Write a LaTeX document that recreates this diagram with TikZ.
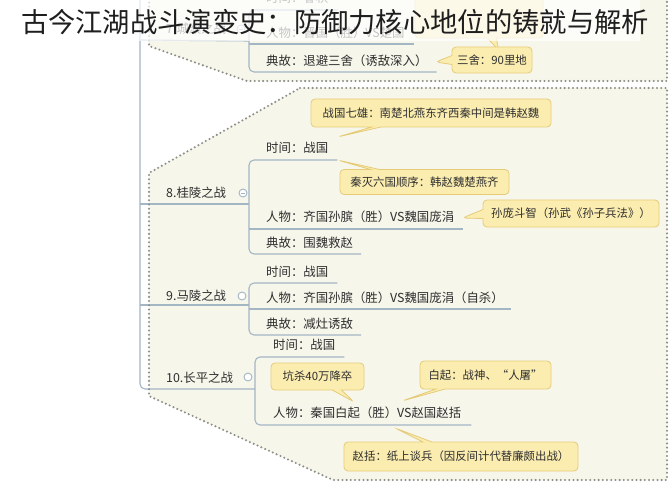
\documentclass[tikz,border=0pt]{standalone}
\usepackage{fontspec}
\newfontfamily\cjk{Noto Sans CJK SC}
\usetikzlibrary{calc,shapes.callouts}
\definecolor{bgc}{HTML}{F7F6EB}
\definecolor{treec}{HTML}{A3B6C4}
\definecolor{dotc}{HTML}{8E8E88}
\definecolor{calfill}{HTML}{FBEDB0}
\definecolor{caldraw}{HTML}{E5CB78}
\definecolor{txtc}{HTML}{2E2E2E}
\definecolor{titlec}{HTML}{1E1E1E}
\begin{document}
\begin{tikzpicture}[x=1pt,y=-1pt,
 tree/.style={draw=treec,line width=1.1pt,rounded corners=5pt},
 bnd/.style={draw=dotc,line width=2.3pt,dash pattern=on 0pt off 4.2pt,line cap=round},
 area/.style={fill=bgc},
 item/.style={anchor=west,inner sep=0pt,text=txtc,font=\cjk\fontsize{12.4}{14}\selectfont},
 note/.style={rectangle callout,fill=calfill,draw=caldraw,line width=0.8pt,rounded corners=4pt,
   text=txtc,font=\cjk\fontsize{11.4}{13}\selectfont,inner sep=0pt,callout pointer width=9pt},
 knob/.style={circle,draw=treec,fill=white,line width=0.9pt,minimum size=8pt,inner sep=0pt}]
\useasboundingbox (0,0) rectangle (669,500);
\fill[white] (0,0) rectangle (669,500);

% boundaries (fill)
\path[area] (149,-6) -- (149,46) -- (247,81) -- (667,81) -- (667,-6) -- cycle;
\path[area] (300,88) -- (667,88) -- (667,480) -- (333,480) -- (149,396) -- (149,173) -- cycle;

% ---------- item 7 (partly hidden) ----------
\node[item] (n7) at (166,29) {7.城濮之战};
\node[item] (c7a) at (266,-2) {时间：春秋};
\node[item] (c7b) at (266,33) {人物：晋国（胜）VS楚国};
\node[item] (c7c) at (266,61) {典故：退避三舍（诱敌深入）};
\draw[tree] ($(c7a.east)+(9,12)$) -- ($(c7a.west)+(-17,12)$) -- ($(c7c.west)+(-17,11)$) -- ($(c7c.east)+(9,11)$);
\draw[tree] ($(c7b.west)+(-17,11)$) -- ($(c7b.east)+(9,11)$);
\draw[tree] ($(n7.west)+(-26,11)$) -- ($(c7b.west)+(-17,8)$);
\node[knob] (k7) at (241,29) {};
\draw[treec,line width=0.8pt] ($(k7)+(-2.2,0)$) -- ($(k7)+(2.2,0)$);
\node[note,minimum width=128pt,minimum height=44pt] (h7) at (479,16) {};
\coordinate (tipG) at ($(c7c.east)+(8,1)$);
\node[note,minimum width=80pt,minimum height=26pt,callout absolute pointer={(tipG)}] (g7) at (492,60) {三舍：90里地};

% ---------- main trunk ----------
\coordinate (trunktop) at (140,-6);
\coordinate (trunkend) at (255,389);
\draw[tree] (trunktop) -- (140,389) -- (trunkend);

% ---------- item 8 ----------
\node[item] (n8) at (166,193) {8.桂陵之战};
\node[item] (c8a) at (266,148) {时间：战国};
\node[item] (c8b) at (266,217) {人物：齐国孙膑（胜）VS魏国庞涓};
\node[item] (c8c) at (266,243) {典故：围魏救赵};
\draw[tree] ($(c8a.east)+(9,12)$) -- ($(c8a.west)+(-17,12)$) -- ($(c8c.west)+(-17,11)$) -- ($(c8c.east)+(8,11)$);
\draw[tree] ($(c8b.west)+(-17,12)$) -- ($(c8b.east)+(9,12)$);
\draw[tree] ($(n8.west)+(-26,11)$) -- ($(c8b.west)+(-17,-13)$);
\node[knob] (k8) at (243,193) {};
\draw[treec,line width=0.8pt] ($(k8)+(-2.2,0)$) -- ($(k8)+(2.2,0)$);

\coordinate (tipA) at ($(c8a.east)+(9,-11)$);
\coordinate (tipB) at ($(c8a.east)+(9,12)$);
\coordinate (tipC) at ($(c8b.east)+(8,1)$);
\node[note,minimum width=240pt,minimum height=28pt,callout absolute pointer={(tipA)}] (a8) at (431,113) {战国七雄：南楚北燕东齐西秦中间是韩赵魏};
\node[note,minimum width=169pt,minimum height=25pt,callout absolute pointer={(tipB)}] (b8) at (424.5,182) {秦灭六国顺序：韩赵魏楚燕齐};
\node[note,minimum width=176pt,minimum height=27pt,callout absolute pointer={(tipC)}] (cc8) at (571,213.5) {孙庞斗智（孙武《孙子兵法》）};

% ---------- item 9 ----------
\node[item] (n9) at (166,296) {9.马陵之战};
\node[item] (c9a) at (266,272) {时间：战国};
\node[item] (c9b) at (266,298) {人物：齐国孙膑（胜）VS魏国庞涓（自杀）};
\node[item] (c9c) at (266,324) {典故：减灶诱敌};
\draw[tree] ($(c9a.east)+(9,11)$) -- ($(c9a.west)+(-17,11)$) -- ($(c9c.west)+(-17,11)$) -- ($(c9c.east)+(8,11)$);
\draw[tree] ($(c9b.west)+(-17,11)$) -- ($(c9b.east)+(7,11)$);
\draw[tree] ($(n9.west)+(-26,9)$) -- ($(c9b.west)+(-17,7)$);
\node[knob] (k9) at (242,296) {};

% ---------- item 10 ----------
\node[item] (n10) at (166,378) {10.长平之战};
\node[item] (c10a) at (273,345) {时间：战国};
\node[item] (c10b) at (273,413) {人物：秦国白起（胜）VS赵国赵括};
\draw[tree] ($(c10a.east)+(9,12)$) -- ($(c10a.west)+(-18,12)$) -- ($(c10b.west)+(-18,12)$) -- ($(c10b.east)+(10,12)$);
\node[knob] (k10) at (248,377) {};

\coordinate (tipD) at (354,402);
\coordinate (tipE) at (402,401);
\coordinate (tipF) at (395,428);
\node[note,minimum width=93pt,minimum height=27pt,callout absolute pointer={(tipD)}] (d10) at (317.5,376.5) {坑杀40万降卒};
\node[note,minimum width=131pt,minimum height=28pt,callout absolute pointer={(tipE)}] (e10) at (485.5,375) {白起：战神、“人屠”};
\node[note,minimum width=234pt,minimum height=29pt,callout absolute pointer={(tipF)}] (f10) at (461,456.5) {赵括：纸上谈兵（因反间计代替廉颇出战）};

% boundaries (dots)
\draw[bnd] (149,-6) -- (149,46) -- (247,81) -- (667,81) -- (667,-6);
\draw[bnd] (300,88) -- (667,88) -- (667,480) -- (333,480) -- (149,396) -- (149,173) -- cycle;

% ---------- title overlay ----------
\fill[white,opacity=0.72] (28,0) rectangle (640,41);
\node[inner sep=0pt,text=titlec,font=\cjk\fontsize{27.3}{30}\selectfont] (title) at (335,22) {古今江湖战斗演变史：防御力核心地位的铸就与解析};
\end{tikzpicture}
\end{document}
